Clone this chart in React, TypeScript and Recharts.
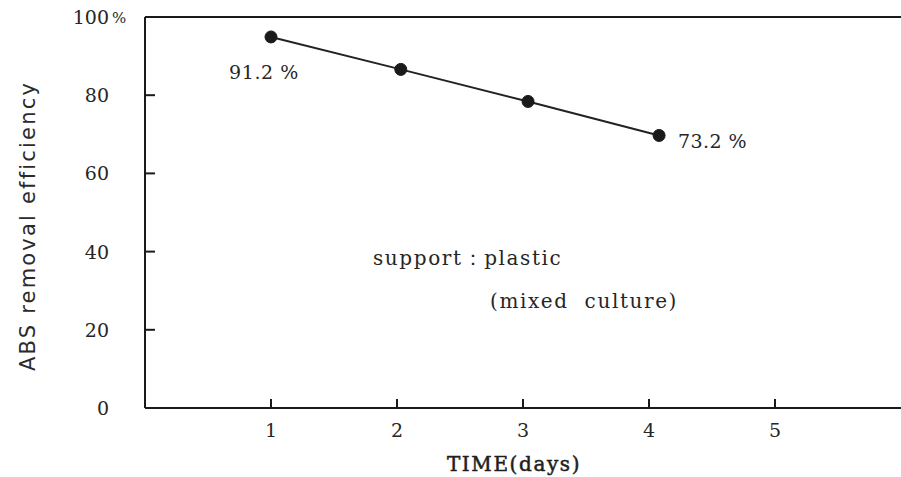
import { Line, LineChart, LabelList, ReferenceLine, XAxis, YAxis } from "recharts";

const days = [1.0, 2.03, 3.04, 4.08];
const removal = [94.9, 86.6, 78.4, 69.7];
const pointLabels = ["91.2 %", "", "", "73.2 %"];
const xTicks = [1, 2, 3, 4, 5];
const yTicks = [0, 20, 40, 60, 80, 100];

const data = days.map((day, i) => ({ day, removal: removal[i], note: pointLabels[i] }));

const serif = "'DejaVu Serif', 'Liberation Serif', serif";
const ink = "#1a1a1a";
const textInk = "#262626";

function YTick(props: any) {
  const { x, y, payload } = props;
  const v = payload.value;
  return (
    <g>
      {v !== 0 && v !== 100 && <line x1={x} x2={x + 10} y1={y} y2={y} stroke={ink} strokeWidth={2} />}
      <text x={x - 36} y={y} dy={7} textAnchor="end" fontFamily={serif} fontSize={19} fill={textInk}>
        {v}
      </text>
      {v === 100 && (
        <text x={x - 33} y={y} dy={6} fontFamily={serif} fontSize={15} fill={textInk}>
          %
        </text>
      )}
    </g>
  );
}

function XTick(props: any) {
  const { x, y, payload } = props;
  return (
    <g>
      <line x1={x} x2={x} y1={y} y2={y - 9} stroke={ink} strokeWidth={2} />
      <text x={x} y={y + 29} textAnchor="middle" fontFamily={serif} fontSize={19} fill={textInk}>
        {payload.value}
      </text>
    </g>
  );
}

function PointNote(props: any) {
  const { x, y, value, index } = props;
  if (!value) return null;
  if (index === 0) {
    return (
      <text x={x - 7} y={y + 42} textAnchor="middle" fontFamily={serif} fontSize={19} letterSpacing={0.6} fill={textInk}>
        {value}
      </text>
    );
  }
  return (
    <text x={x + 19} y={y + 13} textAnchor="start" fontFamily={serif} fontSize={19} letterSpacing={0.4} fill={textInk}>
      {value}
    </text>
  );
}

export default function App() {
  return (
    <div style={{ position: "absolute", left: 0, top: 0, width: 901, height: 477, background: "#fff" }}>
      <LineChart width={901} height={477} data={data} margin={{ top: 17, right: 0, bottom: 0, left: 0 }}>
        <XAxis
          type="number"
          dataKey="day"
          domain={[0, 6]}
          ticks={xTicks}
          height={69}
          tickSize={0}
          tickMargin={0}
          tickLine={false}
          tick={<XTick />}
          axisLine={{ stroke: ink, strokeWidth: 2 }}
          label={{
            value: "TIME(days)",
            position: "insideBottom",
            offset: 6,
            dx: -9,
            fontFamily: serif,
            fontSize: 20,
            letterSpacing: 1.6,
            stroke: "#1e1e1e",
            strokeWidth: 0.5,
            fill: "#1e1e1e",
          }}
        />
        <YAxis
          type="number"
          domain={[0, 100]}
          ticks={yTicks}
          width={145}
          tickSize={0}
          tickMargin={0}
          tickLine={false}
          tick={<YTick />}
          axisLine={{ stroke: ink, strokeWidth: 2 }}
        />
        <ReferenceLine y={100} stroke={ink} strokeWidth={2} />
        <Line
          dataKey="removal"
          stroke="#222"
          strokeWidth={2}
          dot={{ r: 6, fill: ink, stroke: ink, strokeWidth: 1 }}
          isAnimationActive={false}
        >
          <LabelList dataKey="note" content={<PointNote />} />
        </Line>
        <text
          x={28}
          y={226}
          transform="rotate(-90 28 226)"
          textAnchor="middle"
          dominantBaseline="central"
          fontFamily="'DejaVu Sans', sans-serif"
          fontSize={21}
          letterSpacing={2.2}
          fill="#2a2a2a"
        >
          ABS removal efficiency
        </text>
        <text x={373} y={265} fontFamily={serif} fontSize={20} letterSpacing={1.6} fill={textInk}>
          support：plastic
        </text>
        <text x={490} y={308} fontFamily={serif} fontSize={20} letterSpacing={1.6} fill={textInk} style={{ whiteSpace: "pre" }}>
          (mixed  culture)
        </text>
      </LineChart>
    </div>
  );
}
